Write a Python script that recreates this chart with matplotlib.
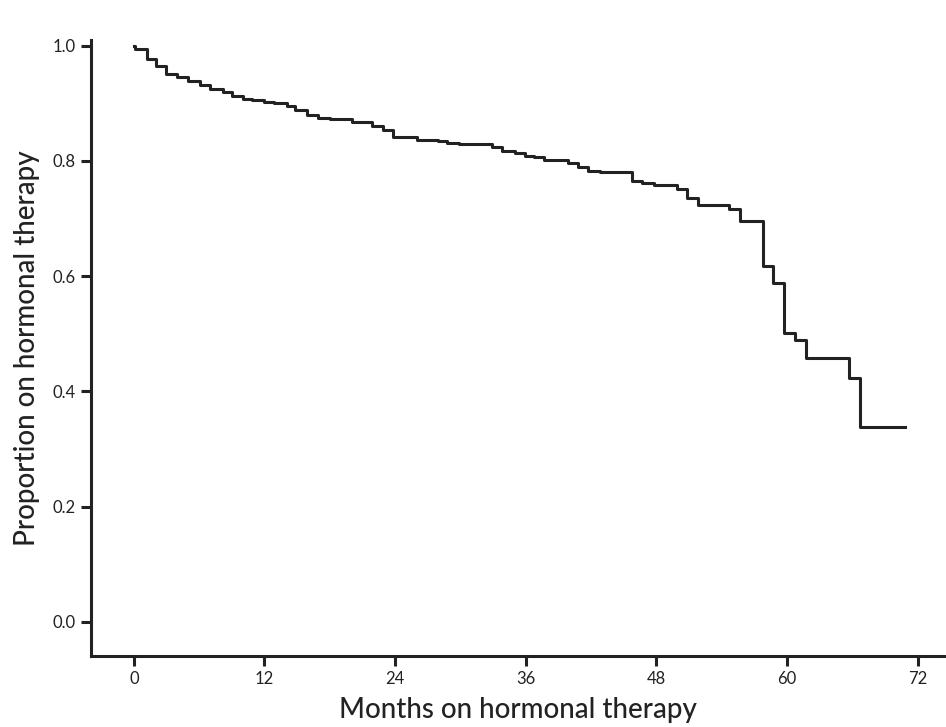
import matplotlib.pyplot as plt

# === Kaplan-Meier style steps ===
months = [0, 0.1, 1.2, 2.0, 3.0, 4.0, 5.0, 6.1, 7.0, 8.2, 9.0, 10.0, 10.9, 12.0,
          12.9, 14.1, 14.8, 15.9, 16.9, 18.0, 20.0, 21.9, 22.9, 23.8, 26.0, 27.9,
          28.8, 29.9, 32.9, 33.8, 35.0, 35.9, 36.8, 37.7, 38.9, 39.9, 40.8, 41.7,
          42.8, 45.8, 46.7, 47.8, 49.9, 50.8, 51.8, 54.7, 55.7, 57.8, 58.7, 59.7,
          60.7, 61.7, 65.7, 66.7, 70.8]
proportion = [1.0, 0.995, 0.977, 0.964, 0.951, 0.945, 0.938, 0.932, 0.925, 0.920,
              0.913, 0.908, 0.906, 0.903, 0.901, 0.896, 0.889, 0.880, 0.875, 0.872,
              0.868, 0.861, 0.854, 0.841, 0.837, 0.834, 0.832, 0.830, 0.825, 0.818,
              0.814, 0.809, 0.806, 0.802, 0.801, 0.797, 0.790, 0.783, 0.780, 0.766,
              0.761, 0.759, 0.752, 0.735, 0.724, 0.716, 0.695, 0.617, 0.588, 0.501,
              0.489, 0.458, 0.423, 0.338, 0.338]

x_ticks = [0, 12, 24, 36, 48, 60, 72]
y_ticks = [0.0, 0.2, 0.4, 0.6, 0.8, 1.0]

plt.rcParams['font.family'] = ['Lato', 'DejaVu Sans']

fig = plt.figure(figsize=(9.46, 7.27), dpi=100)
ax = fig.add_axes([0.096, 0.098, 0.904, 0.847])

ax.step(months, proportion, where='post', color='#222222', linewidth=2.2)

ax.set_xlim(-3.95, 74.6)
ax.set_ylim(-0.059, 1.01)
ax.set_xticks(x_ticks)
ax.set_yticks(y_ticks)
ax.set_xticklabels([str(t) for t in x_ticks])
ax.set_yticklabels([f"{t:.1f}" for t in y_ticks])

for side in ['top', 'right']:
    ax.spines[side].set_visible(False)
for side in ['left', 'bottom']:
    ax.spines[side].set_linewidth(2.2)
    ax.spines[side].set_color('#222222')

ax.tick_params(axis='both', direction='out', length=7, width=2.2,
               color='#222222', labelsize=12, labelcolor='#222222', pad=4)

ax.set_xlabel("Months on hormonal therapy", fontsize=20, fontweight='medium',
              color='#222222', labelpad=7)
ax.set_ylabel("Proportion on hormonal therapy", fontsize=20, fontweight='medium',
              color='#222222', labelpad=9)

fig.savefig("out.png", dpi=100)
